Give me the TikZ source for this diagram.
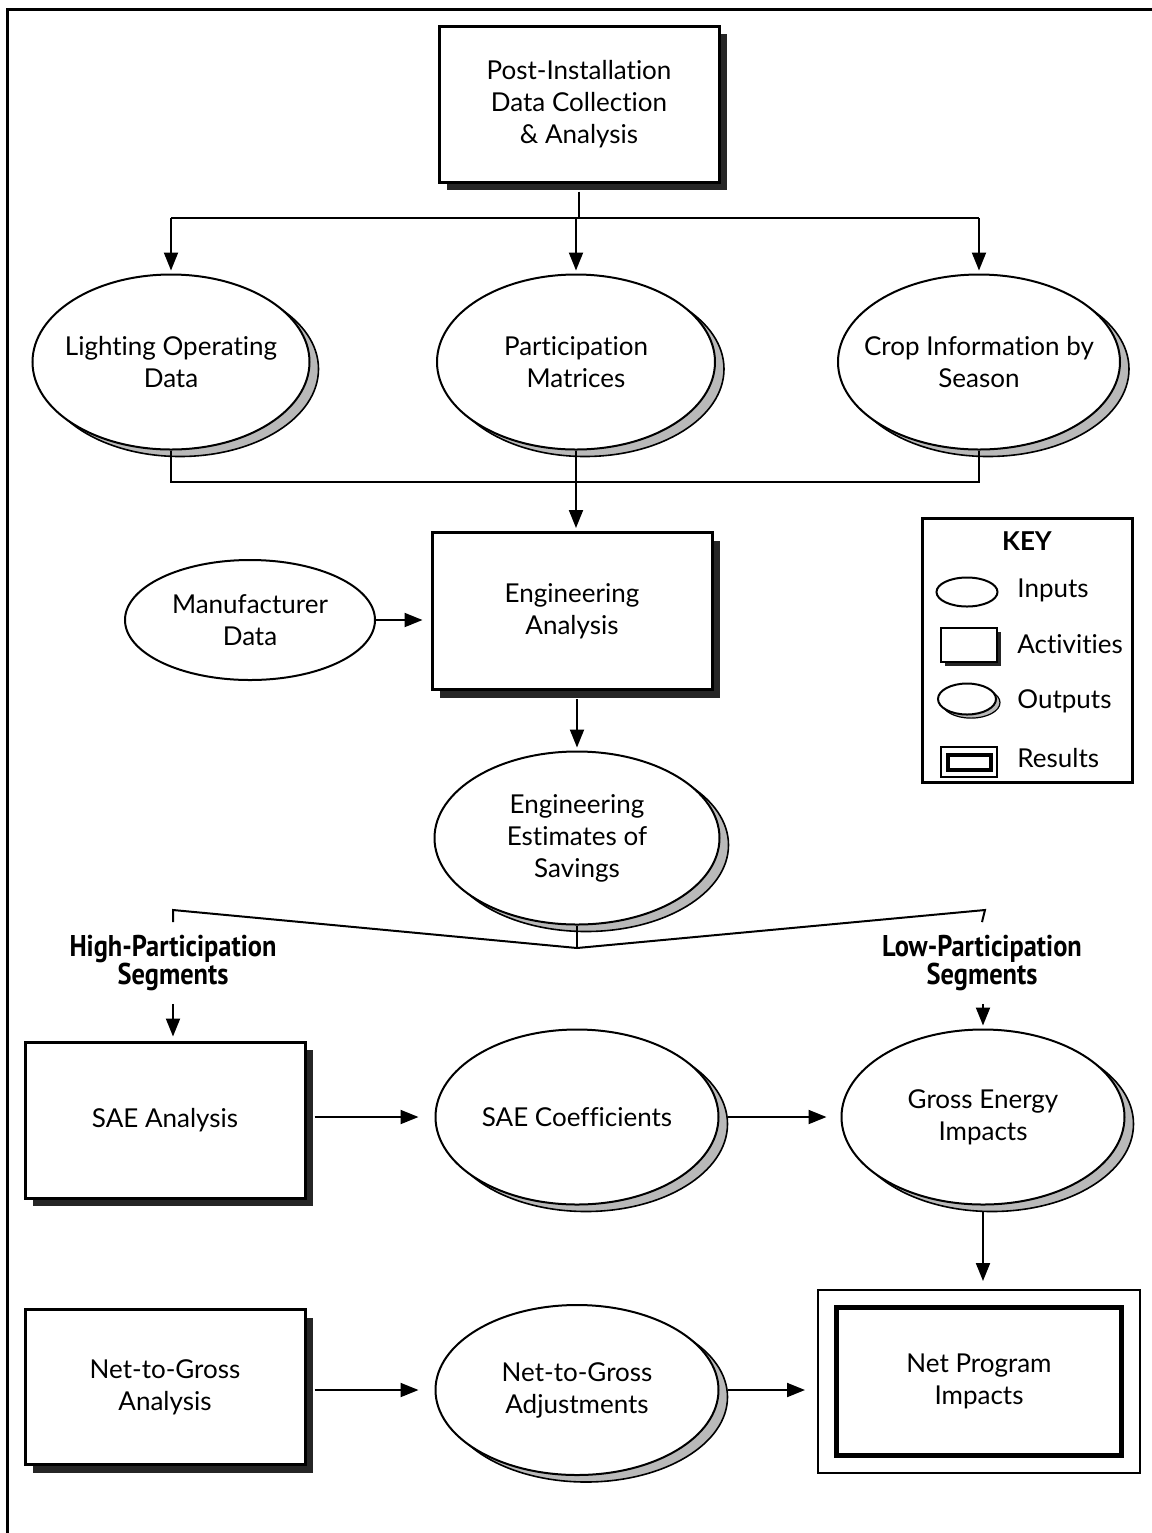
\documentclass[tikz,border=0pt]{standalone}
\usepackage{fontspec}
\setmainfont{Lato}[Ligatures={NoCommon}]
\newfontfamily\segfont[FakeStretch=0.88]{PT Sans}
\usetikzlibrary{shapes.geometric,arrows.meta,shadows,calc}

\tikzset{
  txt/.style={font=\fontsize{13}{16}\selectfont, align=center},
  activity/.style={txt, rectangle, draw, line width=1.5pt, fill=white,
    inner sep=0pt, minimum width=140pt, minimum height=78pt,
    drop shadow={shadow xshift=4pt, shadow yshift=-4pt, fill=black!85, opacity=1}},
  input/.style={txt, ellipse, draw, line width=1pt, fill=white, inner sep=-16pt},
  output/.style={input,
    drop shadow={shadow xshift=4.5pt, shadow yshift=-3.5pt, fill=gray!55,
      draw=black, line width=0.8pt, opacity=1}},
  conn/.style={line width=1pt},
  flow/.style={conn, -{Triangle[length=9pt,width=7pt]}},
  seglabel/.style={font=\segfont\bfseries\fontsize{15}{14}\selectfont, align=center},
  keytxt/.style={txt, anchor=west, inner sep=0pt},
}

\begin{document}
\begin{tikzpicture}[x=0.5pt, y=-0.5pt]
\useasboundingbox (0,0) rectangle (1152,1533);

% outer frame (top and left edges)
\draw[line width=1.5pt] (7,1533) -- (7,9) -- (1152,9);

% --- nodes ---
\node[activity] (collect) at (579,104) {Post-Installation\\Data Collection\\\& Analysis};

\node[output, minimum width=138.5pt, minimum height=87.5pt] (light) at (171,362) {Lighting Operating\\Data};
\node[output, minimum width=139pt, minimum height=87.5pt] (partic) at (576,362) {Participation\\Matrices};
\node[output, minimum width=141pt, minimum height=87.5pt] (crop) at (979,362) {Crop Information by\\Season};

\node[activity, minimum height=78.5pt] (eng) at (572,611) {Engineering\\Analysis};
\node[input, minimum width=125pt, minimum height=60pt] (manuf) at (250,620) {Manufacturer\\Data};

\node[output, minimum width=142.5pt, minimum height=86.5pt] (est) at (577,838) {Engineering\\Estimates of\\Savings};

\node[seglabel] (hseg) at (173,963) {High-Participation\\Segments};
\node[seglabel] (lseg) at (982,963) {Low-Participation\\Segments};

\node[activity] (sae) at (165,1120) {SAE Analysis};
\node[output, minimum width=141.5pt, minimum height=87.5pt] (saec) at (577,1117) {SAE Coefficients};
\node[output, minimum width=141.5pt, minimum height=87.5pt] (gross) at (983,1117) {Gross Energy\\Impacts};

\node[activity, minimum height=77.5pt] (ntga) at (165,1387) {Net-to-Gross\\Analysis};
\node[output, minimum width=141.5pt, minimum height=85pt] (ntgadj) at (577,1390) {Net-to-Gross\\Adjustments};

\node[rectangle, draw, line width=1pt, minimum width=161pt, minimum height=91.5pt] (net) at (979,1381.5) {};
\node[txt, rectangle, draw, line width=2.5pt, minimum width=142.5pt, minimum height=74pt] (netin) at (net.center) {Net Program\\Impacts};

% --- key ---
\node[rectangle, draw, line width=1.5pt, minimum width=105pt, minimum height=132pt] (key) at (1027,650) {};
\node[font=\bfseries\fontsize{13}{16}\selectfont] (keyt) at (1027,541) {KEY};
\node[input, minimum width=30.5pt, minimum height=14.5pt] (kin) at (967,592) {};
\node[keytxt] (kint) at (1017,590) {Inputs};
\node[rectangle, draw, line width=1.2pt, fill=white, minimum width=28pt, minimum height=17pt,
  drop shadow={shadow xshift=1.8pt, shadow yshift=-1.8pt, fill=black!85, opacity=1}] (kact) at (969,645) {};
\node[keytxt] (kactt) at (1017,644) {Activities};
\node[input, minimum width=29pt, minimum height=15.5pt,
  drop shadow={shadow xshift=2pt, shadow yshift=-1.8pt, fill=gray!55, draw=black, line width=0.6pt, opacity=1}] (kout) at (967,699) {};
\node[keytxt] (koutt) at (1017,701) {Outputs};
\node[rectangle, draw, line width=1pt, minimum width=28pt, minimum height=15pt] (kres) at (969,762) {};
\node[rectangle, draw, line width=2pt, minimum width=21.5pt, minimum height=7.5pt] (kresin) at (kres.center) {};
\node[keytxt] (krest) at (1017,758) {Results};

% --- connectors ---
\coordinate (tb) at (579,218);
\draw[conn] (collect.south) ++(0,-4pt) -- (tb);
\draw[conn] (light.north |- tb) -- (crop.north |- tb);
\draw[flow, shorten >=1.5pt] (light.north |- tb) -- (light.north);
\draw[flow, shorten >=1.5pt] (partic.north |- tb) -- (partic.north);
\draw[flow, shorten >=1.5pt] (crop.north |- tb) -- (crop.north);

\coordinate (mb) at (577,482);
\draw[conn] (light.south) -- (light.south |- mb) -- (crop.south |- mb) -- (crop.south);
\draw[flow, shorten >=1.5pt] (partic.south) -- (partic.south |- eng.north);

\draw[flow, shorten >=4pt] (manuf.east) -- (manuf.east -| eng.west);
\draw[flow, shorten >=1.5pt, shorten <=4pt] (est.north |- eng.south) -- (est.north);

\coordinate (split) at (577,948);
\coordinate (hl) at (173,910);
\coordinate (hr) at (985,910);
\draw[conn] (est.south) -- (split);
\draw[conn] (hseg.north) ++(0,3pt) -- (hl) -- (split) -- (hr) -- ($(lseg.north)+(0,3pt)$);
\draw[flow, shorten <=3pt, shorten >=2pt] (hseg.south) -- (sae.north -| hseg.south);
\draw[flow, shorten <=3pt, shorten >=1.5pt] (lseg.south -| gross.north) -- (gross.north);

\draw[flow, shorten <=4pt, shorten >=8pt] (sae.east |- saec.west) -- (saec.west);
\draw[flow, shorten <=4pt, shorten >=7pt] (saec.east) -- (gross.west);
\draw[flow, shorten <=3pt, shorten >=4pt] (gross.south) -- (net.north -| gross.south);

\draw[flow, shorten <=4pt, shorten >=8pt] (ntga.east |- ntgadj.west) -- (ntgadj.west);
\draw[flow, shorten <=4pt, shorten >=6pt] (ntgadj.east) -- (net.west |- ntgadj.east);
\end{tikzpicture}
\end{document}
